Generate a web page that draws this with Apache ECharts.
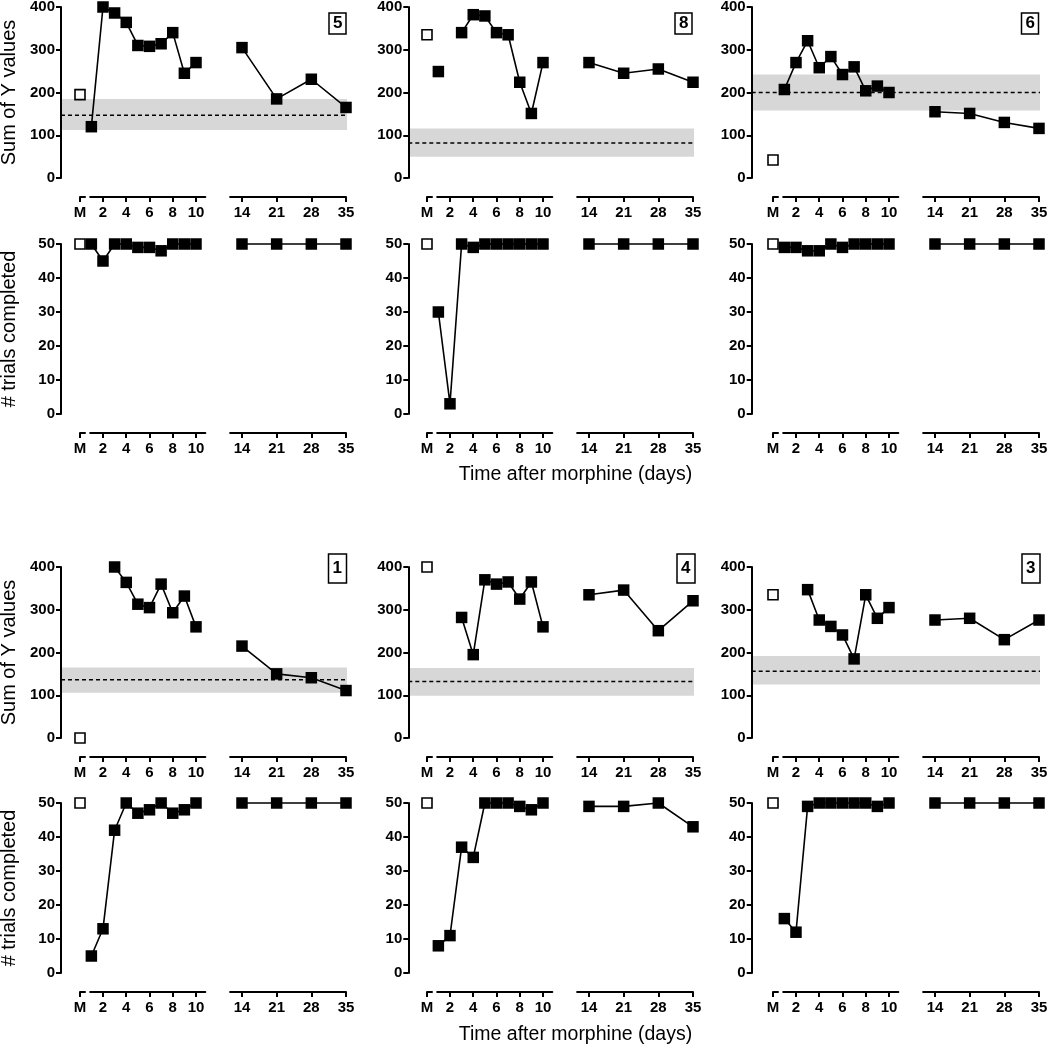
<!DOCTYPE html>
<html><head><meta charset="utf-8">
<script src="https://cdn.jsdelivr.net/npm/echarts@6/dist/echarts.min.js"></script>
<style>html,body{margin:0;padding:0;background:#fff}#c{width:1048px;height:1050px}</style>
</head><body><div id="c"></div>
<script>
// ---------------- data ----------------
const animals = ['5', '8', '6', '1', '4', '3'];
const earlyDays = [1, 2, 3, 4, 5, 6, 7, 8, 9, 10];
const lateDays = [14, 21, 28, 35];
const earlyTicks = [2, 4, 6, 8, 10];
const lateTicks = [14, 21, 28, 35];
const baselineLabel = 'M';

// Sum of Y values
const sumM = [195, 335, 42, 0, 400, 335];
const sumEarly_5 = [120, 400, 386, 364, 310, 308, 314, 340, 245, 270];
const sumEarly_8 = [249, null, 340, 382, 379, 340, 335, 224, 151, 270];
const sumEarly_6 = [207, 270, 321, 258, 284, 242, 260, 204, 215, 200];
const sumEarly_1 = [null, null, 400, 364, 313, 305, 360, 293, 332, 260];
const sumEarly_4 = [null, null, 282, 195, 370, 360, 365, 325, 365, 260];
const sumEarly_3 = [null, null, 347, 276, 261, 241, 185, 335, 280, 305];
const sumLate_5 = [305, 185, 231, 165];
const sumLate_8 = [270, 245, 255, 224];
const sumLate_6 = [155, 151, 130, 116];
const sumLate_1 = [215, 150, 141, 111];
const sumLate_4 = [335, 346, 251, 321];
const sumLate_3 = [276, 280, 230, 276];
const bandLow = [112, 50, 158, 106, 99, 125];
const bandHigh = [185, 116, 242, 165, 164, 192];
const bandMean = [147, 82, 200, 136, 132, 156];

// # trials completed
const trialsM = [50, 50, 50, 50, 50, 50];
const trialsEarly_5 = [50, 45, 50, 50, 49, 49, 48, 50, 50, 50];
const trialsEarly_8 = [30, 3, 50, 49, 50, 50, 50, 50, 50, 50];
const trialsEarly_6 = [49, 49, 48, 48, 50, 49, 50, 50, 50, 50];
const trialsEarly_1 = [5, 13, 42, 50, 47, 48, 50, 47, 48, 50];
const trialsEarly_4 = [8, 11, 37, 34, 50, 50, 50, 49, 48, 50];
const trialsEarly_3 = [16, 12, 49, 50, 50, 50, 50, 50, 49, 50];
const trialsLate_5 = [50, 50, 50, 50];
const trialsLate_8 = [50, 50, 50, 50];
const trialsLate_6 = [50, 50, 50, 50];
const trialsLate_1 = [50, 50, 50, 50];
const trialsLate_4 = [49, 49, 50, 43];
const trialsLate_3 = [50, 50, 50, 50];

const sumTicks = [0, 100, 200, 300, 400];
const trialsTicks = [0, 10, 20, 30, 40, 50];
const sumName = 'Sum of Y values';
const trialsName = '# trials completed';
const xName = 'Time after morphine (days)';

const sumEarlyAll = [sumEarly_5, sumEarly_8, sumEarly_6, sumEarly_1, sumEarly_4, sumEarly_3];
const sumLateAll = [sumLate_5, sumLate_8, sumLate_6, sumLate_1, sumLate_4, sumLate_3];
const trialsEarlyAll = [trialsEarly_5, trialsEarly_8, trialsEarly_6, trialsEarly_1, trialsEarly_4, trialsEarly_3];
const trialsLateAll = [trialsLate_5, trialsLate_8, trialsLate_6, trialsLate_1, trialsLate_4, trialsLate_3];

// ---------------- layout ----------------
const FONT = '"Liberation Sans", Arial, Helvetica, sans-serif';
const colAnchor = [61, 408, 754];
const colYAxisX = [61, 408.3, 751.7];
const rowTop = [7, 244, 567, 803];
const rowH = [171, 170, 171, 170];
const boxPos = [[329, 13], [675, 13], [1021.5, 13], [328, 554], [676.5, 554], [1021.5, 554]];

const grids = [], xAxes = [], yAxes = [], series = [], titles = [];
const black = '#000';
const lineW = 2;

function addGrid(left, top, width, height) {
  grids.push({ left, top, width, height, containLabel: false, outerBoundsMode: 'none' });
  return grids.length - 1;
}
const labelStyle = { color: black, fontWeight: 'bold', fontSize: 15, fontFamily: FONT };

for (let r = 0; r < 4; r++) {
  for (let c = 0; c < 3; c++) {
    const isSum = r % 2 === 0;
    const a = (r < 2 ? 0 : 3) + c;
    const A = colAnchor[c], yx = colYAxisX[c];
    const top = rowTop[r], h = rowH[r];
    const yMax = isSum ? 400 : 50;
    const yTicks = isSum ? sumTicks : trialsTicks;
    const yInt = yTicks[1] - yTicks[0];

    // background grid with the visible y axis + band
    const g0 = addGrid(yx, top, A + 286 - yx, h);
    xAxes.push({ gridIndex: g0, type: 'value', min: 0, max: 1, show: false });
    yAxes.push({
      gridIndex: g0, type: 'value', min: 0, max: yMax, interval: yInt, z: 5,
      axisLine: { show: true, lineStyle: { color: black, width: lineW } },
      axisTick: { show: true, length: 5, lineStyle: { color: black, width: lineW } },
      axisLabel: Object.assign({ margin: 6 }, labelStyle),
      splitLine: { show: false },
      name: c === 0 ? (isSum ? sumName : trialsName) : '',
      nameLocation: 'middle', nameGap: 42,
      nameTextStyle: { color: black, fontSize: 20, fontFamily: FONT }
    });
    if (isSum) {
      series.push({
        type: 'line', xAxisIndex: g0, yAxisIndex: g0, silent: true,
        data: [[0, bandMean[a]], [1, bandMean[a]]],
        symbol: 'none', z: 2,
        lineStyle: { color: black, width: 1.5, type: [4, 3] },
        markArea: { silent: true, itemStyle: { color: '#d7d7d7' }, data: [[{ yAxis: bandLow[a] }, { yAxis: bandHigh[a] }]] }
      });
    }

    function segment(left, width, min, max, ticks, fmt) {
      const g = addGrid(left, top, width, h);
      xAxes.push({
        gridIndex: g, type: 'value', min, max, position: 'bottom', offset: 19,
        axisLine: { show: true, onZero: false, lineStyle: { color: black, width: lineW } },
        axisTick: { show: true, length: 5, customValues: ticks, lineStyle: { color: black, width: lineW } },
        axisLabel: Object.assign({ customValues: ticks, margin: 8, formatter: fmt, showMinLabel: true, showMaxLabel: true }, labelStyle),
        splitLine: { show: false }
      });
      yAxes.push({ gridIndex: g, type: 'value', min: 0, max: yMax, show: false });
      return g;
    }
    const gM = segment(A + 19, 5, 0, 1, [0], () => baselineLabel);
    const gE = segment(A + 29.2, 115.1, 0.9, 10.8, earlyTicks, v => String(v));
    const gL = segment(A + 169.1, 115.9, 11.6, 35, lateTicks, v => String(v));

    const mVal = isSum ? sumM[a] : trialsM[a];
    const early = isSum ? sumEarlyAll[a] : trialsEarlyAll[a];
    const late = isSum ? sumLateAll[a] : trialsLateAll[a];

    series.push({
      type: 'line', xAxisIndex: gM, yAxisIndex: gM, clip: false, z: 4,
      data: [[0, mVal]], symbol: 'rect', symbolSize: 10,
      itemStyle: { color: '#fff', borderColor: black, borderWidth: 1.6 },
      lineStyle: { width: 0 }
    });
    const filled = {
      type: 'line', clip: false, z: 4, symbol: 'rect', symbolSize: 11.5, connectNulls: false,
      itemStyle: { color: black }, lineStyle: { color: black, width: 1.6 }
    };
    series.push(Object.assign({}, filled, {
      xAxisIndex: gE, yAxisIndex: gE,
      data: earlyDays.map((d, i) => [d, early[i] === null ? '-' : early[i]])
    }));
    series.push(Object.assign({}, filled, {
      xAxisIndex: gL, yAxisIndex: gL,
      data: lateDays.map((d, i) => [d, late[i]])
    }));
  }
}

animals.forEach((id, i) => {
  const big = i >= 3;
  titles.push({
    text: id, left: boxPos[i][0], top: boxPos[i][1],
    borderColor: black, borderWidth: 1.5,
    padding: big ? [6, 4.5] : [2, 4],
    textStyle: { color: black, fontWeight: 'bold', fontSize: 17, fontFamily: FONT }
  });
});
[465, 1025].forEach(t => titles.push({
  text: xName, left: 575.5, top: t, textAlign: 'center', padding: 0,
  textStyle: { color: black, fontWeight: 'normal', fontSize: 19.5, fontFamily: FONT }
}));

const chart = echarts.init(document.getElementById('c'), null, { renderer: 'canvas' });
chart.setOption({
  animation: false,
  backgroundColor: '#fff',
  title: titles,
  grid: grids,
  xAxis: xAxes,
  yAxis: yAxes,
  series: series
});
</script>
</body></html>
